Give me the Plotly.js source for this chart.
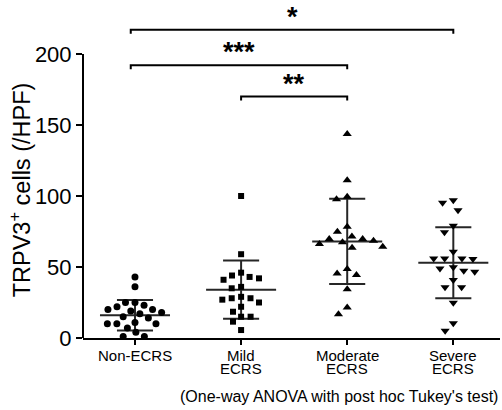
<!DOCTYPE html>
<html><head><meta charset="utf-8">
<script src="https://cdn.plot.ly/plotly-3.0.1.min.js"></script>
<style>html,body{margin:0;padding:0;background:#fff;}#chart{width:502px;height:410px;}</style>
</head><body><div id="chart"></div>
<script>
// ---- data ----
const categories = ['Non-ECRS', 'Mild ECRS', 'Moderate ECRS', 'Severe ECRS'];
const nonEcrs = [43, 36, 25, 25, 23, 22, 20, 19, 20, 18, 17, 15, 14, 11, 10, 10, 10, 7, 4, 1, 1];
const mildEcrs = [100, 59, 46, 44, 43, 42, 41, 36, 35, 29, 28, 28, 27, 25, 22, 18.5, 15, 15, 11.5, 5.6];
const moderateEcrs = [143.7, 111, 99.5, 97.7, 78.4, 74.9, 71.4, 69.7, 69.7, 68.5, 67.4, 66.2, 64.3, 63.6, 48.6, 45.5, 44.4, 34.3, 21.4, 16.7];
const severeEcrs = [97, 95.3, 90, 79, 74.4, 60.8, 56, 56, 56, 55.6, 49.8, 49, 47.4, 46.7, 40.8, 35.7, 35.7, 24.9, 10.3, 5.1];
const groupMeans = [16, 34, 68, 53];
const groupSDs = [10.8, 20.5, 30, 25];
const yTickVals = [0, 50, 100, 150, 200];
const comparisonPairs = [[0, 3], [0, 2], [1, 2]];
const comparisonLabels = ['*', '***', '**'];
const comparisonLevels = [217, 192, 170];
const yTitle = 'TRPV3<sup>+</sup> cells (/HPF)';
const footnote = "(One-way ANOVA with post hoc Tukey's test)";

// ---- layout geometry ----
const W = 502, H = 410;
const M = {l: 83, r: 2, t: 0, b: 72};
const xRange = [-0.49, 3.44];
const yRange = [0, 238];
const plotW = W - M.l - M.r, plotH = H - M.t - M.b;
const pxPerX = plotW / (xRange[1] - xRange[0]);
const pxPerY = plotH / (yRange[1] - yRange[0]);
const FONT = 'Liberation Sans, Arial, sans-serif';

// beeswarm: place each point at the smallest horizontal offset free of overlap
function swarm(values, D) {
  const placed = [];
  const order = values.map((v, i) => i).sort((a, b) => values[b] - values[a]);
  const offs = new Array(values.length);
  order.forEach(i => {
    const y = values[i] * pxPerY;
    const near = placed.filter(p => Math.abs(p.y - y) < D);
    const cands = [0];
    near.forEach(p => { const w = Math.sqrt(D * D - (p.y - y) ** 2); cands.push(p.x - w, p.x + w); });
    const ok = c => near.every(p => (p.x - c) ** 2 + (p.y - y) ** 2 >= D * D - 1e-6);
    cands.sort((a, b) => Math.abs(a) - Math.abs(b) || a - b);
    const c = cands.find(ok);
    placed.push({x: c, y});
    offs[i] = c / pxPerX;
  });
  return offs;
}

const groups = [nonEcrs, mildEcrs, moderateEcrs, severeEcrs];
const symbols = ['circle', 'square', 'triangle-up', 'triangle-down'];
const sizes = [7, 6, 8, 8];
const spacing = [9.5, 9.5, 11, 11];

const traces = [];
// mean ± SD lines
const lx = [], ly = [];
groups.forEach((g, i) => {
  const m = groupMeans[i], s = groupSDs[i];
  lx.push(i - 0.33, i + 0.33, null, i, i, null, i - 0.17, i + 0.17, null, i - 0.17, i + 0.17, null);
  ly.push(m, m, null, m - s, m + s, null, m + s, m + s, null, m - s, m - s, null);
});
traces.push({x: lx, y: ly, mode: 'lines', line: {color: '#262626', width: 2}, hoverinfo: 'skip', showlegend: false, cliponaxis: false});

groups.forEach((g, i) => {
  const offs = swarm(g, spacing[i]);
  traces.push({
    x: g.map((v, k) => i + offs[k]), y: g, mode: 'markers', type: 'scatter',
    name: categories[i], showlegend: false, cliponaxis: false,
    marker: {symbol: symbols[i], size: sizes[i], color: '#000', line: {width: 0}}
  });
});

const shapes = [
  {type: 'line', xref: 'paper', yref: 'y', x0: 0, x1: 0, y0: 0, y1: 200, line: {color: '#000', width: 2}}
];
const annotations = [];
const drop = 4 / pxPerY;
comparisonPairs.forEach((p, k) => {
  const y = comparisonLevels[k];
  const x0 = p[0] === 0 ? p[0] - 0.04 : p[0];
  shapes.push({type: 'path', xref: 'x', yref: 'y',
    path: `M ${x0},${y - drop} L ${x0},${y} L ${p[1]},${y} L ${p[1]},${y - drop}`,
    line: {color: '#000', width: 2}});
  annotations.push({x: (x0 + p[1]) / 2, y: y, xref: 'x', yref: 'y', text: '<b>' + comparisonLabels[k] + '</b>',
    showarrow: false, yanchor: 'bottom', yshift: -4, font: {family: FONT, size: 27, color: '#000'}});
});
// category labels (two tight rows)
categories.forEach((c, i) => {
  const sp = c.indexOf(' ');
  const l1 = sp < 0 ? c : c.slice(0, sp), l2 = sp < 0 ? '' : c.slice(sp + 1);
  annotations.push({x: i, y: -17.5 / plotH, xref: 'x', yref: 'paper', text: l1, showarrow: false,
    yanchor: 'middle', font: {family: FONT, size: 15, color: '#000'}});
  if (l2) annotations.push({x: i, y: -31 / plotH, xref: 'x', yref: 'paper', text: l2, showarrow: false,
    yanchor: 'middle', font: {family: FONT, size: 15, color: '#000'}});
});
annotations.push({x: 1, y: -58 / plotH, xref: 'paper', yref: 'paper', xanchor: 'right', yanchor: 'middle',
  text: footnote, showarrow: false, font: {family: FONT, size: 16, color: '#000'}});
annotations.push({x: -63 / plotW, y: 104, xref: 'paper', yref: 'y', textangle: -90, text: yTitle,
  showarrow: false, xanchor: 'center', yanchor: 'middle', font: {family: FONT, size: 23.5, color: '#000'}});

const layout = {
  width: W, height: H, margin: M, paper_bgcolor: '#fff', plot_bgcolor: '#fff', showlegend: false,
  xaxis: {range: xRange, showline: true, linecolor: '#000', linewidth: 2, tickvals: [0, 1, 2, 3],
    ticks: 'outside', ticklen: 5, tickwidth: 2, tickcolor: '#000', showticklabels: false,
    showgrid: false, zeroline: false, fixedrange: true},
  yaxis: {range: yRange, showline: false, tickvals: yTickVals, ticks: 'outside', ticklen: 6, tickwidth: 2,
    tickcolor: '#000', tickfont: {family: FONT, size: 22, color: '#000'}, showgrid: false, zeroline: false,
    fixedrange: true},
  shapes, annotations
};
Plotly.newPlot('chart', traces, layout, {displayModeBar: false, staticPlot: true});
</script></body></html>
